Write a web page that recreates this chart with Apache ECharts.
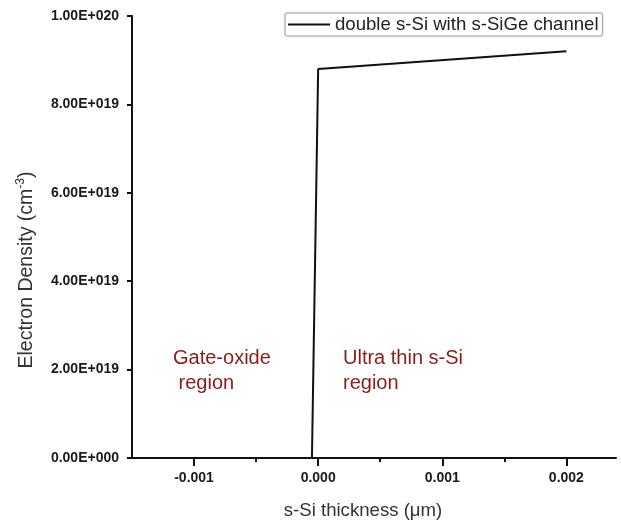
<!DOCTYPE html>
<html>
<head>
<meta charset="utf-8">
<script src="https://cdn.jsdelivr.net/npm/echarts@6/dist/echarts.min.js"></script>
<style>
  html, body { margin: 0; padding: 0; background: #fff; }
  #chart { width: 621px; height: 526px; }
</style>
</head>
<body>
<div id="chart"></div>
<script>
// data
var seriesName = 'double s-Si with s-SiGe channel'
var thickness = [-0.00005, 0.0, 0.002]
var density = [0, 8.8e19, 9.2e19]
var xMajorTicks = [-0.001, 0.0, 0.001, 0.002]
var xMinorTicks = [-0.0005, 0.0005, 0.0015]
var yTicks = [0, 2e19, 4e19, 6e19, 8e19, 1e20]

var FONT = 'Liberation Sans, Arial, sans-serif'

// 2.00E+019 style labels
function sciLabel(v) {
  if (v === 0) return '0.00E+000'
  var exp = Math.floor(Math.log10(Math.abs(v)) + 1e-9)
  var mant = v / Math.pow(10, exp)
  var e = String(Math.abs(exp))
  while (e.length < 3) e = '0' + e
  return mant.toFixed(2) + 'E' + (exp < 0 ? '-' : '+') + e
}

var chart = echarts.init(document.getElementById('chart'))

var tickFont = {
  fontFamily: FONT,
  fontSize: 14,
  fontWeight: 'bold',
  color: '#1a1a1a'
}

chart.setOption({
  animation: false,
  grid: { left: 132, top: 16, right: 5, bottom: 68 },
  legend: {
    left: 285,
    top: 13,
    data: [seriesName],
    icon: 'rect',
    itemWidth: 42,
    itemHeight: 2,
    padding: [2, 4, 2, 3],
    borderColor: '#aaa',
    borderWidth: 1,
    borderRadius: 2,
    shadowColor: 'rgba(0,0,0,0.2)',
    shadowBlur: 2,
    backgroundColor: '#fff',
    textStyle: { fontFamily: FONT, fontSize: 18.6, color: '#222' }
  },
  xAxis: [{
    type: 'value',
    min: -0.0015,
    max: 0.0024,
    splitLine: { show: false },
    axisLine: { onZero: false, lineStyle: { color: '#111', width: 2 } },
    axisTick: { customValues: xMajorTicks, length: 8, lineStyle: { color: '#111', width: 2 } },
    axisLabel: {
      customValues: xMajorTicks,
      margin: 13,
      formatter: function (v) { return v.toFixed(3) },
      ...tickFont
    },
    name: 's-Si thickness (\u03bcm)',
    nameLocation: 'middle',
    nameGap: 43,
    nameTextStyle: { fontFamily: FONT, fontSize: 18.6, color: '#333', padding: [0, 22, 0, 0] }
  }, {
    // minor ticks only
    type: 'value',
    position: 'bottom',
    min: -0.0015,
    max: 0.0024,
    splitLine: { show: false },
    axisLine: { show: false },
    axisTick: { customValues: xMinorTicks, length: 4, lineStyle: { color: '#111', width: 2 } },
    axisLabel: { show: false }
  }],
  yAxis: {
    type: 'value',
    min: 0,
    max: 1e20,
    splitLine: { show: false },
    axisLine: { onZero: false, lineStyle: { color: '#111', width: 2 } },
    axisTick: { customValues: yTicks, length: 5, lineStyle: { color: '#111', width: 2 } },
    axisLabel: {
      customValues: yTicks,
      margin: 13,
      formatter: sciLabel,
      ...tickFont
    }
  },
  series: [{
    name: seriesName,
    type: 'line',
    data: thickness.map(function (x, i) { return [x, density[i]] }),
    symbol: 'none',
    lineStyle: { color: '#111', width: 2 },
    itemStyle: { color: '#111' }
  }],
  graphic: [{
    // y axis title, sits a bit below the axis middle in the original
    type: 'text',
    x: 27,
    y: 270,
    rotation: Math.PI / 2,
    style: {
      text: 'Electron Density (cm{sup|-3})',
      fontFamily: FONT,
      fontSize: 19.5,
      fill: '#333',
      align: 'center',
      verticalAlign: 'middle',
      rich: {
        sup: { fontFamily: FONT, fontSize: 12, fill: '#333', padding: [0, 0, 12, 0] }
      }
    }
  }, {
    type: 'text',
    left: 173,
    top: 346,
    style: {
      text: 'Gate-oxide\n region',
      fontFamily: FONT,
      fontSize: 20,
      lineHeight: 25,
      fill: '#8b1c17'
    }
  }, {
    type: 'text',
    left: 343,
    top: 346,
    style: {
      text: 'Ultra thin s-Si\nregion',
      fontFamily: FONT,
      fontSize: 20,
      lineHeight: 25,
      fill: '#8b1c17'
    }
  }]
})
</script>
</body>
</html>
